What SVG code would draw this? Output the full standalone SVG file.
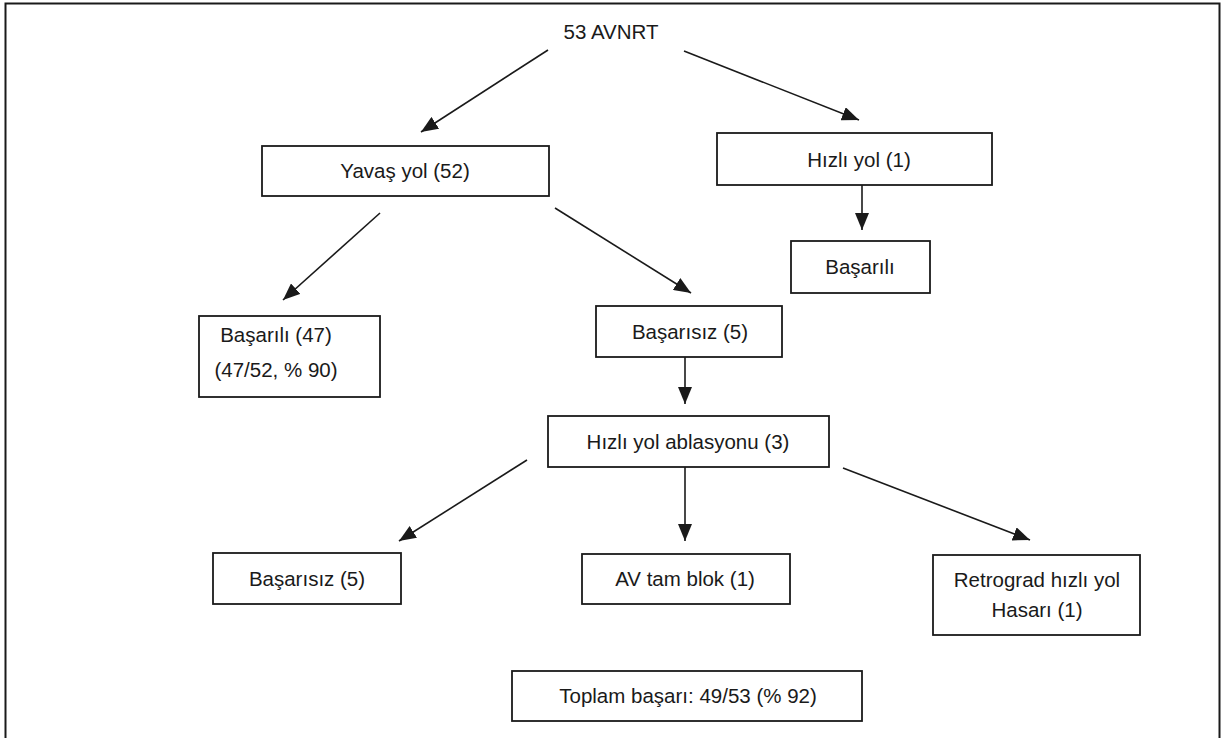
<svg xmlns="http://www.w3.org/2000/svg" width="1229" height="738" viewBox="0 0 1229 738">
<style>
.box{fill:#fff;stroke:#1a1a1a;stroke-width:1.8}
.t{font-family:"Liberation Sans",Arial,sans-serif;font-size:20.5px;fill:#1a1a1a;text-anchor:middle}
.c{stroke:#1a1a1a;stroke-width:1.6;fill:none;marker-end:url(#ah)}
</style>
<defs>
<marker id="ah" markerUnits="userSpaceOnUse" markerWidth="18" markerHeight="14" refX="17" refY="7" orient="auto">
<path d="M0,0 L17,7 L0,14 z" fill="#1a1a1a"/>
</marker>
</defs>
<rect x="0" y="0" width="1229" height="738" fill="#fff"/>
<rect x="5.5" y="3.5" width="1214" height="745" fill="none" stroke="#1a1a1a" stroke-width="2"/>
<g id="connectors">
<line class="c" x1="548" y1="50" x2="421" y2="132"/>
<line class="c" x1="684" y1="51" x2="859" y2="120"/>
<line class="c" x1="380" y1="213" x2="283" y2="300"/>
<line class="c" x1="555" y1="208" x2="691" y2="293"/>
<line class="c" x1="862" y1="185" x2="862" y2="230"/>
<line class="c" x1="685" y1="357" x2="685" y2="404"/>
<line class="c" x1="527" y1="460" x2="399" y2="541"/>
<line class="c" x1="685" y1="467" x2="685" y2="541"/>
<line class="c" x1="843" y1="468" x2="1030" y2="540"/>
</g>
<g id="n-root"><text class="t" x="611" y="39">53 AVNRT</text></g>
<g id="n-yavas"><rect class="box" x="262" y="146" width="287" height="50"/><text class="t" x="405" y="178">Yavaş yol (52)</text></g>
<g id="n-hizli"><rect class="box" x="717" y="133" width="275" height="52"/><text class="t" x="859" y="167">Hızlı yol (1)</text></g>
<g id="n-basarili-r"><rect class="box" x="791" y="241" width="139" height="52"/><text class="t" x="860" y="274">Başarılı</text></g>
<g id="n-basarili47"><rect class="box" x="199" y="316" width="181" height="81"/><text class="t" x="276" y="342">Başarılı (47)</text><text class="t" x="276" y="377">(47/52, % 90)</text></g>
<g id="n-basarisiz1"><rect class="box" x="596" y="306" width="186" height="51"/><text class="t" x="690" y="339">Başarısız (5)</text></g>
<g id="n-ablasyon"><rect class="box" x="548" y="416" width="281" height="51"/><text class="t" x="688" y="449">Hızlı yol ablasyonu (3)</text></g>
<g id="n-basarisiz2"><rect class="box" x="213" y="553" width="188" height="51"/><text class="t" x="307" y="586">Başarısız (5)</text></g>
<g id="n-avblok"><rect class="box" x="582" y="554" width="208" height="50"/><text class="t" x="685" y="586">AV tam blok (1)</text></g>
<g id="n-retro"><rect class="box" x="933" y="555" width="207" height="80"/><text class="t" x="1037" y="587">Retrograd hızlı yol</text><text class="t" x="1037" y="617">Hasarı (1)</text></g>
<g id="n-toplam"><rect class="box" x="512" y="671" width="350" height="50"/><text class="t" x="688" y="703">Toplam başarı: 49/53 (% 92)</text></g>
</svg>
